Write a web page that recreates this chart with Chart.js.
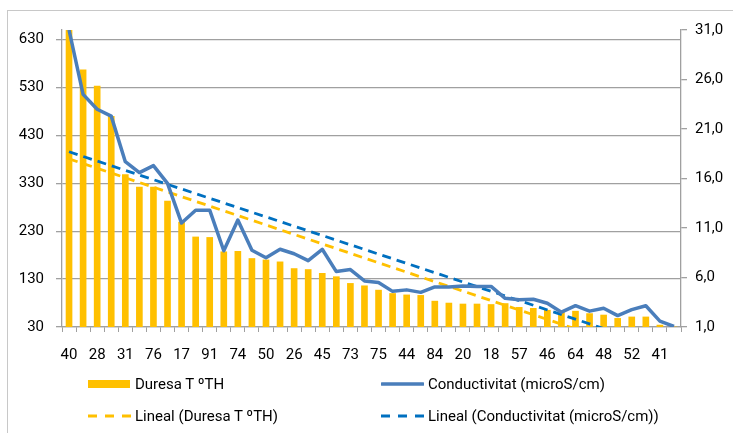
<!DOCTYPE html>
<html>
<head>
<meta charset="utf-8">
<script src="https://cdn.jsdelivr.net/npm/chart.js@4/dist/chart.umd.min.js"></script>
<style>
  html, body { margin: 0; padding: 0; background: #fff; }
  #wrap { position: relative; width: 733px; height: 433px; overflow: hidden; }
  #c { position: absolute; left: 0; top: 0; }
  .lg { position: absolute; font-family: 'Liberation Sans Narrow', 'Roboto', sans-serif; font-size: 15px; color: #000; line-height: 18px; white-space: nowrap; }
  .sw { position: absolute; }
</style>
</head>
<body>
<div id="wrap">
  <canvas id="c" width="733" height="433"></canvas>
  <div id="legend"></div>
</div>
<script>
// Category labels (only every other one is readable in the reference)
const categories = ['40','','28','','31','','76','','17','','91','','74','','50','','26','','45','','73','',
                    '75','','44','','84','','20','','18','','57','','46','','64','','48','','52','','41',''];
// Duresa T ºTH (left axis)
const duresa = [650,567,533,470,348,322,322,293,249,218,217,187,188,173,170,166,152,150,142,135,121,116,
                107,100,97,96,84,80,78,78,77,79,71,69,65,62,63,58,55,48,51,51,34,30];
// Conductivitat (microS/cm) (right axis)
const conductivitat = [31.0,24.5,23.0,22.3,17.7,16.6,17.3,15.5,11.5,12.8,12.8,8.7,11.8,8.75,8.0,8.85,8.4,7.7,8.85,6.6,6.8,5.65,
                       5.5,4.6,4.75,4.5,5.05,5.05,5.15,5.1,5.1,3.9,3.75,3.8,3.4,2.5,3.15,2.6,2.9,2.15,2.75,3.15,1.6,1.05];
// Linear trend lines: value at first and last category
const trendDuresa = [381, -43];
const trendConductivitat = [18.7, -1.5];
// Axis ticks
const leftTicks = [30,130,230,330,430,530,630];
const rightTicks = [1,6,11,16,21,26,31];

const seriesNames = ['Duresa T ºTH','Conductivitat (microS/cm)','Lineal (Duresa T ºTH)','Lineal (Conductivitat (microS/cm))'];
const GOLD = '#FFC000', BLUE = '#4A7EBB', DBLUE = '#0070C0', GRID = '#a0a0a0';

function endpoints(pair) {
  const arr = new Array(categories.length).fill(null);
  arr[0] = pair[0];
  arr[arr.length - 1] = pair[1];
  return arr;
}

const framePlugin = {
  id: 'frame',
  beforeDraw(chart) {
    const ctx = chart.ctx;
    ctx.save();
    ctx.strokeStyle = '#c8c8c8';
    ctx.lineWidth = 1;
    ctx.strokeRect(7.5, 10.5, 800, 500);
    ctx.restore();
  }
};

const tickFont = { family: 'Roboto, sans-serif', size: 15 };

new Chart(document.getElementById('c'), {
  data: {
    labels: categories,
    datasets: [
      { type: 'bar', label: seriesNames[0], data: duresa, yAxisID: 'yL', backgroundColor: GOLD,
        barThickness: 6, order: 5 },
      { type: 'line', label: seriesNames[2], data: endpoints(trendDuresa), yAxisID: 'yL', borderColor: GOLD,
        borderWidth: 2.8, borderDash: [9, 6], pointRadius: 0, spanGaps: true, order: 3 },
      { type: 'line', label: seriesNames[3], data: endpoints(trendConductivitat), yAxisID: 'yR', borderColor: DBLUE,
        borderWidth: 2.8, borderDash: [9, 6], pointRadius: 0, spanGaps: true, order: 2 },
      { type: 'line', label: seriesNames[1], data: conductivitat, yAxisID: 'yR', borderColor: BLUE,
        borderWidth: 3.5, pointRadius: 0, tension: 0, borderJoinStyle: 'round', order: 1 }
    ]
  },
  options: {
    responsive: false,
    animation: false,
    devicePixelRatio: 1,
    layout: { padding: { top: 30, bottom: 66, left: 0, right: 0 } },
    plugins: { legend: { display: false }, tooltip: { enabled: false } },
    scales: {
      x: {
        offset: true,
        grid: { offset: true, drawOnChartArea: false, tickLength: 5, color: GRID, lineWidth: 1 },
        border: { color: GRID, width: 1.3 },
        ticks: { autoSkip: false, maxRotation: 0, minRotation: 0, padding: 14, color: '#000', font: tickFont },
        afterFit(s) { s.height = 40; }
      },
      yL: {
        position: 'left',
        min: 30, max: 650,
        afterBuildTicks(s) { s.ticks = leftTicks.map(v => ({ value: v })); },
        grid: { color: GRID, lineWidth: 1.3, tickLength: 6 },
        border: { color: GRID, width: 1.3 },
        ticks: { padding: 12, color: '#000', font: tickFont, callback: v => String(v) },
        afterFit(s) { s.width = 62; }
      },
      yR: {
        position: 'right',
        min: 1, max: 31,
        afterBuildTicks(s) { s.ticks = rightTicks.map(v => ({ value: v })); },
        grid: { drawOnChartArea: false, color: GRID, lineWidth: 1.3, tickLength: 6 },
        border: { color: GRID, width: 1.3 },
        ticks: { padding: 8, color: '#000', font: tickFont, callback: v => Number(v).toFixed(1).replace('.', ',') },
        afterFit(s) { s.width = 52; }
      }
    }
  },
  plugins: [framePlugin]
});

// Two-column legend as in the reference
const legendItems = [
  { name: seriesNames[0], x: 88, y: 384, kind: 'box', color: GOLD },
  { name: seriesNames[1], x: 381, y: 384, kind: 'line', color: BLUE },
  { name: seriesNames[2], x: 88, y: 416, kind: 'dash', color: GOLD },
  { name: seriesNames[3], x: 381, y: 416, kind: 'dash', color: DBLUE }
];
const lg = document.getElementById('legend');
legendItems.forEach(it => {
  const sw = document.createElementNS('http://www.w3.org/2000/svg', 'svg');
  sw.setAttribute('class', 'sw');
  sw.setAttribute('width', '43'); sw.setAttribute('height', '10');
  sw.style.left = it.x + 'px'; sw.style.top = (it.y - 5) + 'px';
  if (it.kind === 'box') {
    sw.innerHTML = '<rect x="0" y="1" width="42" height="8" fill="' + it.color + '"/>';
  } else if (it.kind === 'line') {
    sw.innerHTML = '<line x1="1" y1="5" x2="42" y2="5" stroke="' + it.color + '" stroke-width="3.5" stroke-linecap="round"/>';
  } else {
    sw.innerHTML = '<line x1="0" y1="5" x2="43" y2="5" stroke="' + it.color + '" stroke-width="2.8" stroke-dasharray="9,8"/>';
  }
  lg.appendChild(sw);
  const t = document.createElement('div');
  t.className = 'lg';
  t.textContent = it.name;
  t.style.left = (it.x + 47) + 'px';
  t.style.top = (it.y - 9) + 'px';
  lg.appendChild(t);
});
</script>
</body>
</html>
